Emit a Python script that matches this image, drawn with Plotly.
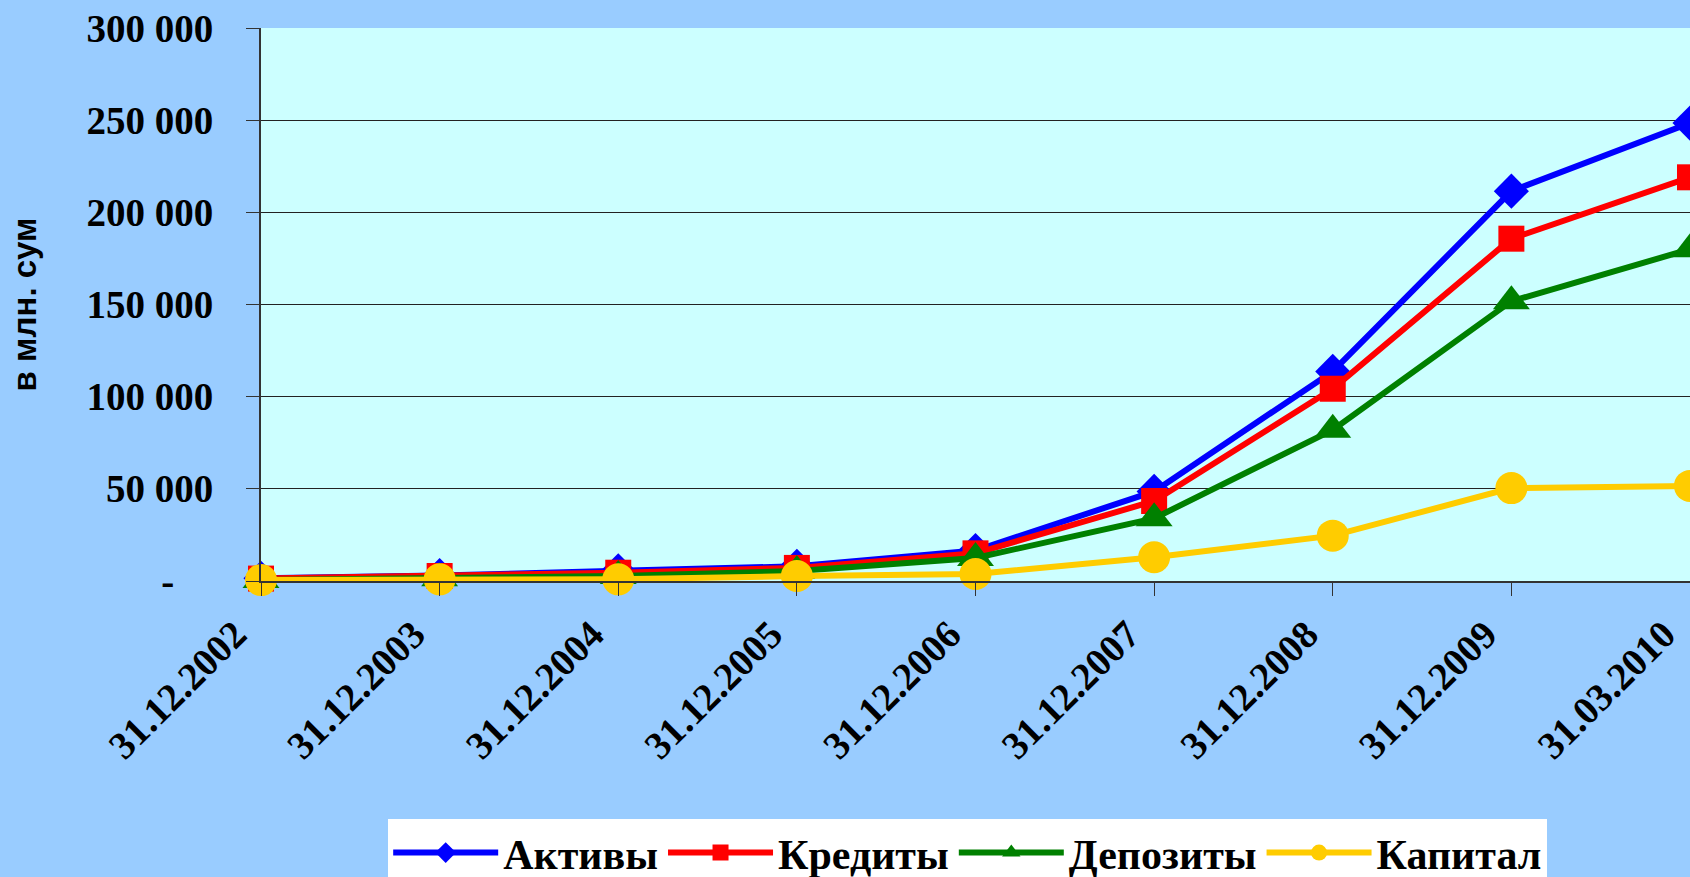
import plotly.graph_objects as go

categories = ["31.12.2002", "31.12.2003", "31.12.2004", "31.12.2005", "31.12.2006",
              "31.12.2007", "31.12.2008", "31.12.2009", "31.03.2010"]
aktivy = [1500, 3000, 5500, 8000, 16500, 48600, 113700, 211500, 248400]
kredity = [1300, 2700, 4500, 7100, 15000, 43400, 104300, 185700, 219000]
depozity = [500, 1500, 2700, 5400, 12500, 34000, 82000, 151800, 180000]
kapital = [500, 900, 900, 2700, 3800, 12900, 24600, 50400, 51600]

y_ticks = [0, 50000, 100000, 150000, 200000, 250000, 300000]
y_tick_labels = ["-\u00a0\u00a0\u00a0\u00a0", "50 000", "100 000", "150 000", "200 000", "250 000", "300 000"]

series = [
    ("Активы", aktivy, "#0000FF", "diamond", 27),
    ("Кредиты", kredity, "#FF0000", "square", 26),
    ("Депозиты", depozity, "#008000", "triangle-up", 32),
    ("Капитал", kapital, "#FFCC00", "circle", 32),
]

fig = go.Figure()
xidx = list(range(len(categories)))
for name, vals, color, sym, size in series:
    fig.add_trace(go.Scatter(
        x=xidx, y=vals, name=name, mode="lines+markers",
        line=dict(color=color, width=6),
        marker=dict(symbol=sym, size=size, color=color),
        cliponaxis=False,
    ))

serif = "Liberation Serif, Times New Roman, serif"
fig.update_layout(
    width=1690, height=877,
    margin=dict(l=261, r=0, t=28, b=296, autoexpand=False),
    paper_bgcolor="#99CCFF",
    plot_bgcolor="#CCFFFF",
    showlegend=True,
    legend=dict(
        orientation="h", x=0.089, xanchor="left", y=-0.43, yanchor="top",
        bgcolor="#FFFFFF", font=dict(family=serif, size=42, color="#000000", weight="bold"),
        itemwidth=105, traceorder="normal",
    ),
    xaxis=dict(
        range=[0, 8], tickmode="array", tickvals=xidx, ticktext=categories,
        tickangle=-45, ticks="outside", ticklen=13, tickcolor="#333333",
        showgrid=False, zeroline=False, showline=True, linecolor="#333333", linewidth=2,
        tickfont=dict(family=serif, size=39, color="#000000", weight="bold"),
        ticklabelshift=-26, ticklabelstandoff=0, automargin=False,
    ),
    yaxis=dict(
        range=[0, 300000], tickmode="array", tickvals=y_ticks, ticktext=y_tick_labels,
        ticks="outside", ticklen=13, tickcolor="#333333",
        showgrid=True, gridcolor="#222222", gridwidth=1, zeroline=False,
        showline=True, linecolor="#333333", linewidth=2,
        tickfont=dict(family=serif, size=39, color="#000000", weight="bold"),
        ticklabelstandoff=25, automargin=False,
        title=dict(text="в млн. сум",
                   font=dict(family="Liberation Sans, Arial, sans-serif", size=33, color="#000000", weight="bold"),
                   standoff=40),
    ),
)

fig.write_html("out.html", config={"displayModeBar": False},
               post_script="document.body.style.margin='0';document.body.style.overflow='hidden';")
